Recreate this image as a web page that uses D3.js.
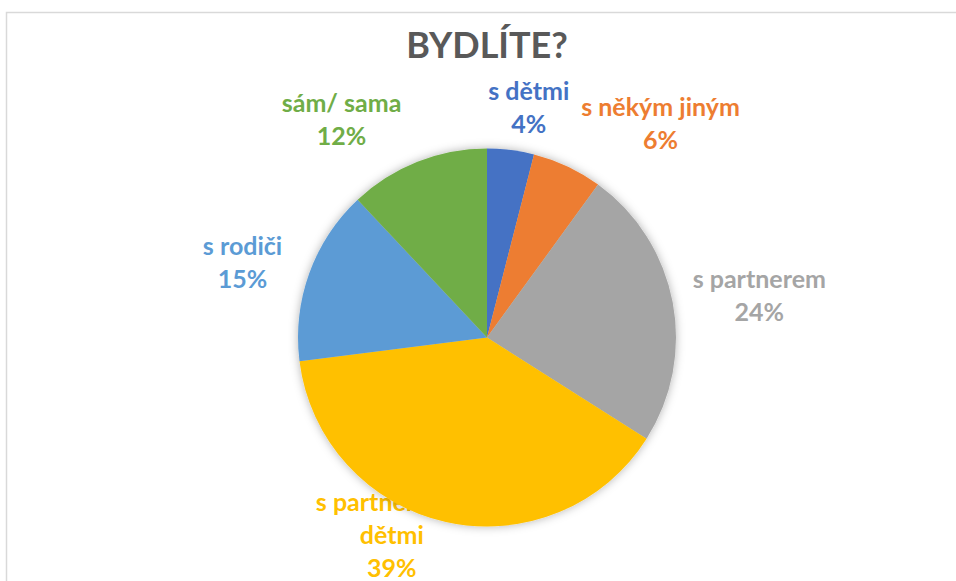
<!DOCTYPE html>
<html><head><meta charset="utf-8">
<script src="https://cdn.jsdelivr.net/npm/d3@7"></script>
<style>html,body{margin:0;padding:0;background:#fff;}svg{display:block;}</style>
</head><body>
<svg id="chart" width="956" height="581"></svg>
<script>
const title = "BYDLÍTE?";
const categories = ["s dětmi", "s někým jiným", "s partnerem", "s partnerem a dětmi", "s rodiči", "sám/ sama"];
const values = [4, 6, 24, 39, 15, 12];
const labelLines = [["s dětmi"], ["s někým jiným"], ["s partnerem"], ["s partnerem a", "dětmi"], ["s rodiči"], ["sám/ sama"]];
const colors = ["#4472C4", "#ED7D31", "#A5A5A5", "#FFC000", "#5B9BD5", "#70AD47"];
// label nudges relative to the arc centroid at label radius (layout only)
const labelNudge = [[9, 30], [62, 23], [15, 7], [-38, -58], [2, 14], [-49, 26]];

const W = 956, H = 581;
const cx = 487, cy = 337.5, R = 189;
const svg = d3.select("#chart");
const font = "Lato, 'Open Sans', sans-serif";

// chart border
svg.append("path").attr("d", `M6.5,${H} V12.5 H${W}`).attr("fill", "none")
  .attr("stroke", "#D9D9D9").attr("stroke-width", 1.5);

svg.append("text").attr("x", cx).attr("y", 58).attr("text-anchor", "middle")
  .attr("font-family", font).attr("font-weight", 700).attr("font-size", 36)
  .attr("fill", "#595959").text(title);

const defs = svg.append("defs");
const f = defs.append("filter").attr("id", "sh").attr("x", "-20%").attr("y", "-20%").attr("width", "140%").attr("height", "140%");
f.append("feDropShadow").attr("dx", 0).attr("dy", 0).attr("stdDeviation", 5)
  .attr("flood-color", "#000").attr("flood-opacity", 0.3);

const pie = d3.pie().sort(null).value(d => d)(values);
const arc = d3.arc().innerRadius(0).outerRadius(R);
const labelArc = d3.arc().innerRadius(R * 1.386).outerRadius(R * 1.386);

// labels first (pie drawn over them)
const lh = 33;
const lg = svg.append("g").attr("font-family", font).attr("font-weight", 700).attr("font-size", 25).attr("text-anchor", "middle");
pie.forEach((d, i) => {
  const c = labelArc.centroid(d);
  const x = cx + c[0] + labelNudge[i][0];
  const y = cy + c[1] + labelNudge[i][1];
  const lines = labelLines[i].concat([values[i] + "%"]);
  const n = lines.length;
  lines.forEach((t, j) => {
    lg.append("text").attr("x", x).attr("y", y + (j - (n - 1) / 2) * lh)
      .attr("dy", "0.36em").attr("fill", colors[i]).text(t);
  });
});

const g = svg.append("g").attr("transform", `translate(${cx},${cy})`).attr("filter", "url(#sh)");
g.selectAll("path").data(pie).join("path").attr("d", arc).attr("fill", (d, i) => colors[i]);
</script>
</body></html>
